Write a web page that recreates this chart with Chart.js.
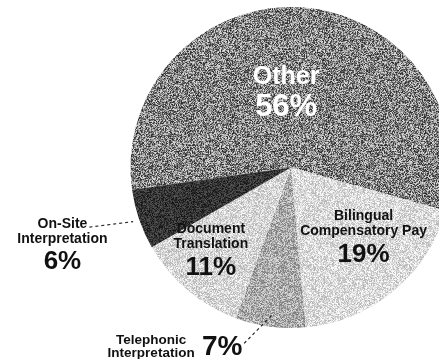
<!DOCTYPE html>
<html>
<head>
<meta charset="utf-8">
<script src="https://cdn.jsdelivr.net/npm/chart.js@4.4.1/dist/chart.umd.min.js"></script>
<style>
  html, body { margin: 0; padding: 0; background: #fff; overflow: hidden; width: 439px; height: 359px; }
  #pie { display: block; }
</style>
</head>
<body>
<canvas id="pie" width="582" height="359"></canvas>
<script>
// data
const categories = ['Other', 'Bilingual Compensatory Pay', 'Telephonic Interpretation', 'Document Translation', 'On-Site Interpretation'];
const shares = [56, 19, 7, 11, 6];
const labelLines = [
  ['Other'],
  ['Bilingual', 'Compensatory Pay'],
  ['Telephonic', 'Interpretation'],
  ['Document', 'Translation'],
  ['On-Site', 'Interpretation']
];

// grainy grey fill like the photocopy, deterministic
function grain(base, amp, seed) {
  const c = document.createElement('canvas');
  c.width = 96; c.height = 96;
  const g = c.getContext('2d');
  const img = g.createImageData(96, 96);
  let s = seed >>> 0;
  for (let i = 0; i < 96 * 96; i++) {
    s = (s * 1664525 + 1013904223) >>> 0;
    let v = base + ((s / 4294967296) - 0.5) * amp;
    v = Math.max(0, Math.min(255, v));
    img.data[i * 4] = img.data[i * 4 + 1] = img.data[i * 4 + 2] = v;
    img.data[i * 4 + 3] = 255;
  }
  g.putImageData(img, 0, 0);
  return g.createPattern(c, 'repeat');
}

const ctx0 = document.getElementById('pie').getContext('2d');
const fills = [
  grain(132, 190, 7),
  grain(218, 80, 11),
  grain(172, 110, 23),
  grain(214, 80, 31),
  grain(52, 70, 43)
];

// label anchor per slice: angle offset from slice middle (deg) and distance in radii
const place = [
  { da: -7.5, f: 0.47, white: true },
  { da: -7, f: 0.62 },
  { da: 13.5, f: 1.2, leader: 0.93 },
  { da: 4.5, f: 0.71 },
  { da: 0.6, f: 1.5, leader: 1.04 }
];

const labelPlugin = {
  id: 'sliceLabels',
  afterDatasetsDraw(chart) {
    const ctx = chart.ctx;
    const arcs = chart.getDatasetMeta(0).data;
    ctx.save();
    ctx.textAlign = 'center';
    ctx.textBaseline = 'middle';
    arcs.forEach((arc, i) => {
      const p = place[i];
      const mid = (arc.startAngle + arc.endAngle) / 2;
      const a = mid + p.da * Math.PI / 180;
      const x = arc.x + Math.cos(a) * arc.outerRadius * p.f;
      const y = arc.y + Math.sin(a) * arc.outerRadius * p.f;
      const pct = shares[i] + '%';
      const lines = labelLines[i];
      ctx.fillStyle = p.white ? '#ffffff' : '#111111';
      if (i === 0) {
        ctx.font = 'bold 25px "Liberation Sans", Arial, sans-serif';
        ctx.fillText(lines[0], x, y - 15);
        ctx.font = 'bold 31px "Liberation Sans", Arial, sans-serif';
        ctx.fillText(pct, x, y + 15);
      } else if (i === 2) {
        // percentage at the anchor, name to its left
        ctx.font = 'bold 28px "Liberation Sans", Arial, sans-serif';
        ctx.fillText(pct, x, y);
        ctx.font = 'bold 13.5px "Liberation Sans", Arial, sans-serif';
        ctx.fillText(lines[0], x - 71, y - 7);
        ctx.fillText(lines[1], x - 71, y + 6);
      } else {
        ctx.font = 'bold 14px "Liberation Sans", Arial, sans-serif';
        ctx.fillText(lines[0], x, y - 19);
        ctx.fillText(lines[1], x, y - 4);
        ctx.font = 'bold 26px "Liberation Sans", Arial, sans-serif';
        ctx.fillText(pct, x, y + 19);
      }
      if (p.leader) {
        const ex = arc.x + Math.cos(mid) * arc.outerRadius * p.leader;
        const ey = arc.y + Math.sin(mid) * arc.outerRadius * p.leader;
        let sx, sy;
        if (i === 4) { sx = x + 27; sy = y - 16; }
        else { sx = x + 22; sy = y - 4; }
        ctx.beginPath();
        ctx.setLineDash([3, 3]);
        ctx.lineWidth = 1.2;
        ctx.strokeStyle = '#222';
        ctx.moveTo(sx, sy);
        ctx.lineTo(ex, ey);
        ctx.stroke();
        ctx.setLineDash([]);
      }
    });
    ctx.restore();
  }
};

new Chart(ctx0, {
  type: 'pie',
  data: {
    labels: categories,
    datasets: [{
      data: shares,
      backgroundColor: fills,
      borderWidth: 0
    }]
  },
  options: {
    responsive: false,
    animation: false,
    rotation: -98,
    layout: { padding: { top: 7, bottom: 31, left: 0, right: 0 } },
    plugins: {
      legend: { display: false },
      tooltip: { enabled: false }
    }
  },
  plugins: [labelPlugin]
});
</script>
</body>
</html>
